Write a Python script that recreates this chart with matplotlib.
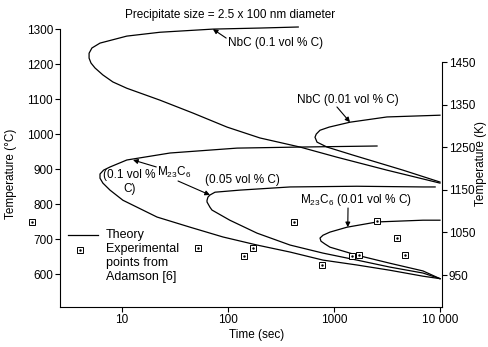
import numpy as np
import matplotlib
matplotlib.use('Agg')
import matplotlib.pyplot as plt

plt.rc('font', family='Liberation Sans', size=8.5)
plt.rc('mathtext', default='regular')

# time (sec) and temperature (deg C) read off the C-curves
# each curve runs: end of upper branch -> nose -> end of lower branch
nbc01_t = [460, 200, 72, 22.8, 11.1, 6.2, 5.2, 4.89, 4.89, 5.1, 5.56, 6.6, 8.2, 11.1, 22.8, 46.8, 98, 200, 478, 1067, 3162, 10000]
nbc01_T = [1306, 1303, 1300, 1291, 1280, 1260, 1246, 1231, 1217, 1203, 1189, 1169, 1149, 1131, 1097, 1060, 1020, 989, 963, 934, 897, 860]

nbc001_t = [10000, 3162, 1416, 900, 738, 680, 662, 692, 859, 1510, 4477, 10000]
nbc001_T = [1054, 1049, 1034, 1020, 1011, 1000, 991, 977, 963, 940, 897, 863]

m01_t = [2547, 478, 122, 28.4, 11.1, 7.7, 6.7, 6.2, 6.2, 6.6, 7.7, 10.2, 21.4, 43.9, 89.8, 188, 385, 787, 1648, 3373, 6918, 10000]
m01_T = [966, 963, 960, 946, 926, 906, 897, 886, 874, 860, 840, 811, 763, 734, 706, 683, 663, 640, 626, 611, 594, 587]

m005_t = [9000, 6918, 1648, 385, 130, 75.4, 67.6, 64.7, 63.4, 63.4, 67.6, 70.6, 104, 188, 385, 787, 1648, 3373, 6918, 10000]
m005_T = [849, 849, 851, 849, 840, 834, 826, 820, 811, 806, 791, 783, 754, 717, 683, 660, 640, 620, 603, 587]

m001_t = [10000, 6918, 2547, 1327, 916, 787, 738, 754, 822, 916, 1648, 3373, 6918, 10000]
m001_T = [754, 754, 749, 734, 720, 711, 703, 694, 686, 677, 654, 631, 609, 587]

# experimental points (Adamson)
exp_t = [1.4, 52, 141, 172, 418, 771, 1480, 1720, 2550, 3930, 4680]
exp_T = [749, 674, 651, 674, 749, 626, 651, 654, 751, 703, 654]

xticks = [10, 100, 1000, 10000]
xtick_labels = ['10', '100', '1000', '10 000']
yticks_C = [600, 700, 800, 900, 1000, 1100, 1200, 1300]
yticks_K = [950, 1050, 1150, 1250, 1350, 1450]

fig = plt.figure(figsize=(4.89, 3.47), dpi=100)
ax = fig.add_axes([60/489, 1-307/347, 382/489, 287/347])

for t, T in [(nbc01_t, nbc01_T), (nbc001_t, nbc001_T), (m01_t, m01_T),
             (m005_t, m005_T), (m001_t, m001_T)]:
    ax.plot(t, T, color='k', lw=0.9)

ax.plot(exp_t, exp_T, ls='', marker='s', ms=4, mfc='white', mec='k', mew=0.7, clip_on=False)
ax.plot(exp_t, exp_T, ls='', marker='.', ms=1.5, color='k', clip_on=False)

ax.set_xscale('log')
ax.set_xlim(2.6, 10450)
ax.set_ylim(506, 1326)
ax.set_xticks(xticks)
ax.set_xticklabels(xtick_labels)
ax.minorticks_off()
ax.set_yticks(yticks_C)
ax.spines['top'].set_visible(False)
ax.spines['right'].set_visible(False)
ax.spines['left'].set_bounds(506, 1300)
ax.tick_params(direction='out', length=3.5, width=0.8, pad=1.5)
ax.set_xlabel('Time (sec)')
ax.set_ylabel('Temperature (\u00b0C)')
ax.xaxis.set_label_coords(0.516, -0.075)
ax.yaxis.set_label_coords(-0.112, 0.463)

ax2 = ax.twinx()
ax2.set_position(ax.get_position())
ax2.set_ylim(875, 1549)
ax2.set_yticks(yticks_K)
for s in ['top', 'left', 'bottom']:
    ax2.spines[s].set_visible(False)
ax2.spines['right'].set_bounds(875, 1450)
ax2.tick_params(direction='out', length=3.5, width=0.8, pad=1.5)
ax2.set_ylabel('Temperature (K)')
ax2.yaxis.set_label_coords(1.086, 0.5)

# legend drawn by hand
ax.plot([0.021, 0.099], [0.251, 0.251], transform=ax.transAxes, color='k', lw=0.9)
ax.text(0.120, 0.251, 'Theory', transform=ax.transAxes, va='center', fontsize=9)
ax.plot(0.052, 0.199, transform=ax.transAxes, marker='s', ms=4, mfc='white', mec='k', mew=0.7)
ax.plot(0.052, 0.199, transform=ax.transAxes, marker='.', ms=1.5, color='k')
ax.text(0.120, 0.224, 'Experimental\npoints from\nAdamson [6]', transform=ax.transAxes,
        va='top', fontsize=9, linespacing=1.25)

# labels and arrows
arr = dict(arrowstyle='-|>', color='k', lw=0.8, mutation_scale=7, shrinkA=0, shrinkB=0)
ax.text(0.445, 1.017, 'Precipitate size = 2.5 x 100 nm diameter', transform=ax.transAxes,
        ha='center', va='center')
ax.text(0.44, 0.92, 'NbC (0.1 vol % C)', transform=ax.transAxes, va='center')
ax.annotate('', xy=(72, 1300), xytext=(0.435, 0.937), textcoords='axes fraction', arrowprops=arr)
ax.text(0.620, 0.721, 'NbC (0.01 vol % C)', transform=ax.transAxes, va='center')
ax.annotate('', xy=(1416, 1034), xytext=(0.725, 0.697), textcoords='axes fraction', arrowprops=arr)
ax.text(0.254, 0.470, 'M$_{23}$C$_6$', transform=ax.transAxes, va='center')
ax.annotate('', xy=(12.7, 926), xytext=(0.252, 0.488), textcoords='axes fraction', arrowprops=arr)
ax.annotate('', xy=(67.6, 826), xytext=(0.309, 0.439), textcoords='axes fraction', arrowprops=arr)
ax.text(0.181, 0.436, '(0.1 vol %\nC)', transform=ax.transAxes, ha='center', va='center',
        multialignment='center')
ax.text(0.380, 0.443, '(0.05 vol % C)', transform=ax.transAxes, va='center')
ax.text(0.628, 0.373, 'M$_{23}$C$_6$ (0.01 vol % C)', transform=ax.transAxes, va='center')
ax.annotate('', xy=(1349, 734), xytext=(0.754, 0.345), textcoords='axes fraction', arrowprops=arr)

fig.savefig('out.png', dpi=100)
